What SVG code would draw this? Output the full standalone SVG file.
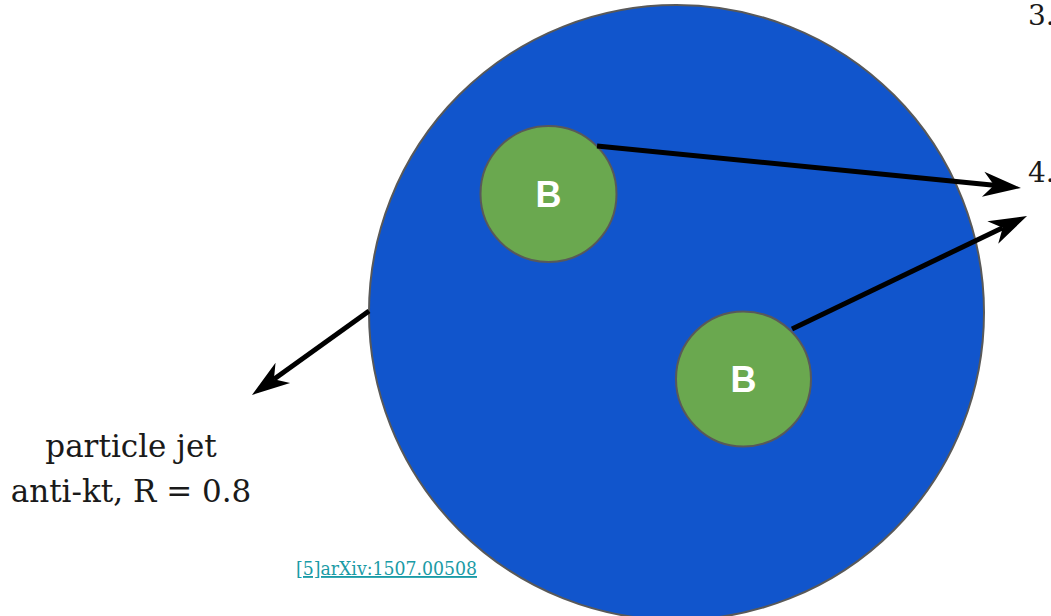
<svg xmlns="http://www.w3.org/2000/svg" width="1051" height="616" viewBox="0 0 1051 616">
<style>
.serif{font-family:"DejaVu Serif","Liberation Serif",serif;fill:#1a1a1a}
.lbl{font-family:"Liberation Sans",Arial,sans-serif;font-weight:bold;font-size:36px;fill:#ffffff}
.b{fill:#6aa84f;stroke:#595959;stroke-width:2}
.arrow{stroke:#000;stroke-width:5;fill:none}
</style>
<defs>
<marker id="ah" markerUnits="userSpaceOnUse" markerWidth="40" markerHeight="30" refX="11" refY="0" viewBox="0 -15 40 30" orient="auto" overflow="visible">
<path d="M0,-12.5 L38,0 L0,12.5 L11,0 Z" fill="#000"/>
</marker>
</defs>
<rect width="1051" height="616" fill="#fff"/>
<g id="jet">
<circle cx="676.5" cy="312.5" r="307.5" fill="#1155cc" stroke="#595959" stroke-width="2"/>
</g>
<g id="b1">
<circle class="b" cx="548.5" cy="194" r="68"/>
<text class="lbl" x="548.5" y="207" text-anchor="middle">B</text>
</g>
<g id="b2">
<circle class="b" cx="743.5" cy="379" r="67.5"/>
<text class="lbl" x="743.5" y="392" text-anchor="middle">B</text>
</g>
<g id="connectors">
<line class="arrow" x1="597" y1="146" x2="994.1" y2="185.3" marker-end="url(#ah)"/>
<line class="arrow" x1="792" y1="329" x2="1002.7" y2="227.7" marker-end="url(#ah)"/>
<line class="arrow" x1="369" y1="311" x2="273.9" y2="379.2" marker-end="url(#ah)"/>
</g>
<g id="label">
<text class="serif" font-size="31" x="131" y="457" text-anchor="middle">particle jet</text>
<text class="serif" font-size="31" x="131" y="502" text-anchor="middle">anti-kt, R = 0.8</text>
</g>
<g id="list">
<text class="serif" font-size="28" x="1028" y="25">3.</text>
<text class="serif" font-size="28" x="1028" y="182">4.</text>
</g>
<g id="ref">
<text font-family="DejaVu Serif, Liberation Serif, serif" font-size="18.5" fill="#1a9ba6" text-decoration="underline" x="296" y="575" textLength="181" lengthAdjust="spacingAndGlyphs">[5]arXiv:1507.00508</text>
</g>
</svg>
